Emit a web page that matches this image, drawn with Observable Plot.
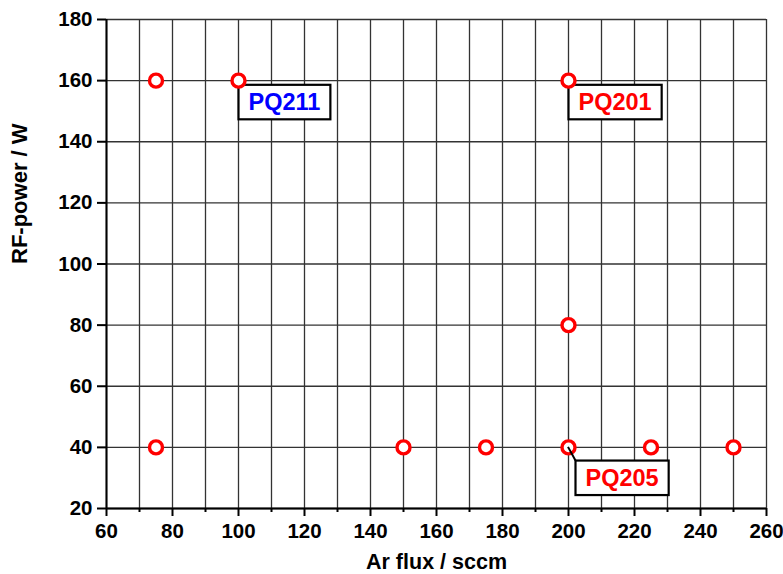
<!DOCTYPE html>
<html>
<head>
<meta charset="utf-8">
<script src="https://cdn.jsdelivr.net/npm/d3@7"></script>
<script src="https://cdn.jsdelivr.net/npm/@observablehq/plot@0.6"></script>
<style>
  html, body { margin: 0; padding: 0; background: #fff; }
  #chart svg { display: block; }
</style>
</head>
<body>
<div id="chart"></div>
<script>
// Process parameters of the sample series
const arFlux  = [75, 100, 200, 200, 75, 150, 175, 200, 225, 250];   // sccm
const rfPower = [160, 160, 160, 80, 40, 40, 40, 40, 40, 40];        // W

// Annotated samples
const labelNames  = ["PQ211", "PQ201", "PQ205"];
const labelFlux   = [100, 200, 200];
const labelPower  = [160, 160, 40];
const labelColors = ["#0000ff", "#ff0000", "#ff0000"];

// Axis ticks and grid
const xTicks = [60, 80, 100, 120, 140, 160, 180, 200, 220, 240, 260];
const xMinorTicks = [70, 90, 110, 130, 150, 170, 190, 210, 230, 250];
const yTicks = [20, 40, 60, 80, 100, 120, 140, 160, 180];

const points = arFlux.map((x, i) => ({x, y: rfPower[i]}));
const labels = labelNames.map((name, i) => ({name, x: labelFlux[i], y: labelPower[i], color: labelColors[i]}));
const xGrid = [...xTicks, ...xMinorTicks];

const font = "'Liberation Sans', Arial, Helvetica, sans-serif";

const plot = Plot.plot({
  width: 783,
  height: 574,
  marginLeft: 106,
  marginRight: 17,
  marginTop: 19,
  marginBottom: 66,
  style: {fontFamily: font, fontWeight: "bold", fontSize: "20.5px", color: "#000", background: "#fff"},
  x: {domain: [60, 260]},
  y: {domain: [20, 180]},
  marks: [
    Plot.ruleX(xGrid, {stroke: "#333", strokeWidth: 1.3}),
    Plot.ruleY(yTicks, {stroke: "#333", strokeWidth: 1.3}),
    Plot.ruleX([60], {stroke: "#000", strokeWidth: 2}),
    Plot.ruleY([20], {stroke: "#000", strokeWidth: 2}),
    Plot.axisX({ticks: xTicks, tickSize: 8, tickPadding: 7, strokeWidth: 2, fontSize: 20.5, label: null}),
    Plot.axisX({ticks: xMinorTicks, tickSize: 4, strokeWidth: 2, tickFormat: () => "", label: null}),
    Plot.axisY({ticks: yTicks, tickSize: 9, tickPadding: 5, strokeWidth: 2, fontSize: 20.5, label: null}),
    // axis titles
    Plot.text(["Ar flux / sccm"], {frameAnchor: "bottom", lineAnchor: "bottom", dy: 60,
      fontSize: 21.5, fontWeight: "bold"}),
    Plot.text(["RF-power / W"], {frameAnchor: "left", lineAnchor: "top", rotate: -90, dx: -95,
      fontSize: 22, fontWeight: "bold"}),
    // sample labels (boxes are added around them after rendering)
    Plot.text(labels.slice(0, 2), {x: "x", y: "y", text: "name", fill: "color",
      textAnchor: "start", lineAnchor: "top", dx: 10, dy: 13, fontSize: 23.5, fontWeight: "bold",
      className: "sample-label"}),
    Plot.text(labels.slice(2), {x: "x", y: "y", text: "name", fill: "color",
      textAnchor: "start", lineAnchor: "top", dx: 17, dy: 22, fontSize: 23.5, fontWeight: "bold",
      className: "sample-label leader"}),
    Plot.dot(points, {x: "x", y: "y", r: 6.5, stroke: "#ff0000", strokeWidth: 3.4, fill: "#fff"})
  ]
});

document.getElementById("chart").appendChild(plot);

// Framed boxes behind the sample labels; PQ205 gets a leader line to its point
const svg = plot.tagName.toLowerCase() === "svg" ? plot : plot.querySelector("svg");
const xs = plot.scale("x"), ys = plot.scale("y");
const NS = "http://www.w3.org/2000/svg";
svg.querySelectorAll("g.sample-label").forEach(g => {
  const withLeader = g.classList.contains("leader");
  g.querySelectorAll("text").forEach(t => {
    const b = t.getBBox();
    const r = document.createElementNS(NS, "rect");
    const bx = b.x - 10, by = b.y - 4.5, bw = b.width + 20, bh = b.height + 8.5;
    r.setAttribute("x", bx);
    r.setAttribute("y", by);
    r.setAttribute("width", bw);
    r.setAttribute("height", bh);
    r.setAttribute("fill", "#fff");
    r.setAttribute("stroke", "#000");
    r.setAttribute("stroke-width", 2.2);
    if (t.getAttribute("transform")) r.setAttribute("transform", t.getAttribute("transform"));
    g.insertBefore(r, t);
    if (withLeader) {
      const m = svg.getScreenCTM().inverse().multiply(r.getScreenCTM());
      let p = svg.createSVGPoint();
      p.x = bx; p.y = by;
      p = p.matrixTransform(m);
      const d = labels.find(l => l.name === t.textContent);
      const line = document.createElementNS(NS, "line");
      line.setAttribute("x1", xs.apply(d.x));
      line.setAttribute("y1", ys.apply(d.y));
      line.setAttribute("x2", p.x);
      line.setAttribute("y2", p.y);
      line.setAttribute("stroke", "#000");
      line.setAttribute("stroke-width", 2);
      svg.appendChild(line);
    }
  });
});
</script>
</body>
</html>
